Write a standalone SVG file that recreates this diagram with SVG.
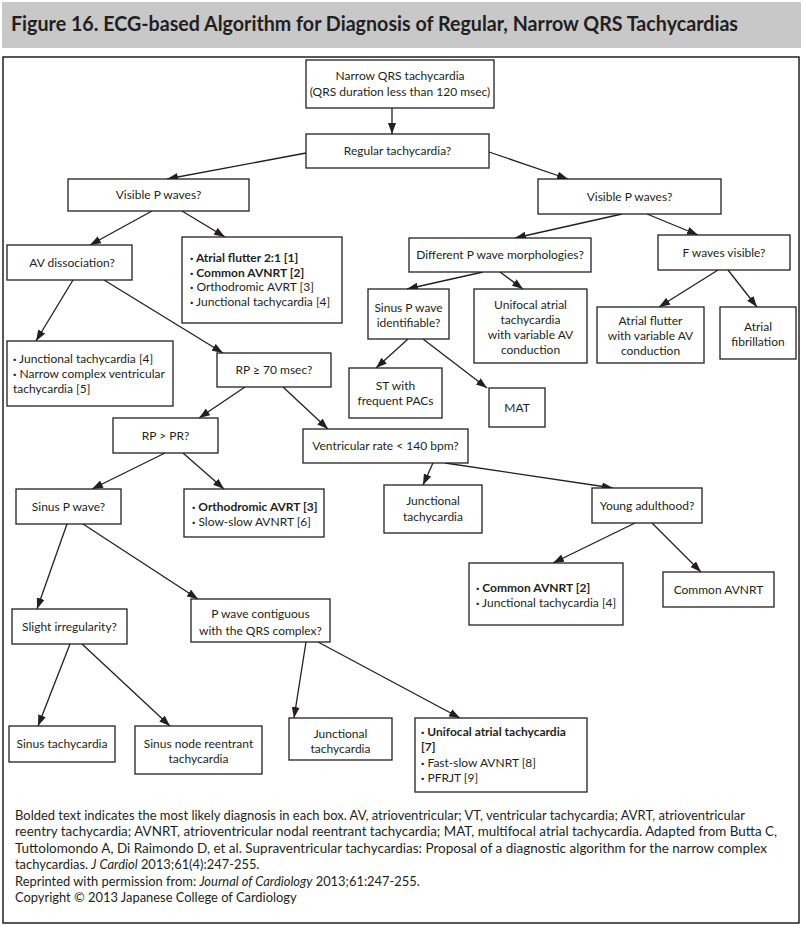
<svg xmlns="http://www.w3.org/2000/svg" width="804" height="927" viewBox="0 0 804 927">
<style>
  .box{fill:#fff;stroke:#231f20;stroke-width:1.3}
  text{font-family:Lato,"Liberation Sans",Arial,sans-serif;font-size:12px;fill:#231f20}
  .c{text-anchor:middle}
  .b{font-weight:bold}
  .dot{font-weight:900}
  .edge{stroke:#231f20;stroke-width:1.3;fill:none;marker-end:url(#ah)}
  .fn{font-size:12.9px}
  .title{font-size:20px;font-weight:bold}
</style>
<defs>
  <marker id="ah" markerUnits="userSpaceOnUse" markerWidth="11" markerHeight="8" refX="11" refY="4" orient="auto">
    <path d="M0,0 L11,4 L0,8 z" fill="#231f20"/>
  </marker>
</defs>
<rect x="2" y="2" width="799" height="46" fill="#c8c8c9"/>
<text class="title" x="11" y="31" textLength="727" lengthAdjust="spacingAndGlyphs">Figure 16. ECG-based Algorithm for Diagnosis of Regular, Narrow QRS Tachycardias</text>
<rect x="3" y="57" width="796" height="866" fill="#fff" stroke="#231f20" stroke-width="1.5"/>

<g id="connectors">
  <line class="edge" x1="392" y1="108" x2="392" y2="134"/>
  <line class="edge" x1="306" y1="153" x2="167" y2="179"/>
  <line class="edge" x1="489" y1="152" x2="568" y2="179"/>
  <line class="edge" x1="152" y1="211" x2="90" y2="245"/>
  <line class="edge" x1="182" y1="211" x2="225" y2="237"/>
  <line class="edge" x1="73" y1="280" x2="36" y2="341"/>
  <line class="edge" x1="104" y1="280" x2="223" y2="353"/>
  <line class="edge" x1="622" y1="214" x2="515" y2="238"/>
  <line class="edge" x1="647" y1="214" x2="698" y2="235"/>
  <line class="edge" x1="483" y1="272" x2="407" y2="289"/>
  <line class="edge" x1="500" y1="272" x2="523" y2="289"/>
  <line class="edge" x1="718" y1="270" x2="659" y2="307"/>
  <line class="edge" x1="728" y1="270" x2="757" y2="307"/>
  <line class="edge" x1="408" y1="339" x2="376" y2="368"/>
  <line class="edge" x1="423" y1="339" x2="487" y2="388"/>
  <line class="edge" x1="245" y1="387" x2="199" y2="418"/>
  <line class="edge" x1="283" y1="387" x2="328" y2="429"/>
  <line class="edge" x1="165" y1="453" x2="92" y2="489"/>
  <line class="edge" x1="183" y1="453" x2="224" y2="489"/>
  <line class="edge" x1="433" y1="463" x2="423" y2="485"/>
  <line class="edge" x1="445" y1="463" x2="613" y2="488"/>
  <line class="edge" x1="635" y1="523" x2="553" y2="563"/>
  <line class="edge" x1="652" y1="523" x2="701" y2="572"/>
  <line class="edge" x1="67" y1="524" x2="37" y2="609"/>
  <line class="edge" x1="83" y1="524" x2="198" y2="599"/>
  <line class="edge" x1="70" y1="644" x2="38" y2="726"/>
  <line class="edge" x1="82" y1="644" x2="170" y2="726"/>
  <line class="edge" x1="306" y1="642" x2="294" y2="718"/>
  <line class="edge" x1="318" y1="642" x2="460" y2="718"/>
</g>

<g id="n1"><rect class="box" x="306" y="60" width="188" height="48"/>
  <text class="c" x="400" y="80">Narrow QRS tachycardia</text>
  <text class="c" x="400" y="96">(QRS duration less than 120 msec)</text></g>
<g id="n2"><rect class="box" x="306" y="134" width="183" height="34"/>
  <text class="c" x="397.5" y="155">Regular tachycardia?</text></g>
<g id="n3"><rect class="box" x="68" y="179" width="181" height="32"/>
  <text class="c" x="158.5" y="199">Visible P waves?</text></g>
<g id="n4"><rect class="box" x="538" y="179" width="183" height="35"/>
  <text class="c" x="629.5" y="200.5">Visible P waves?</text></g>
<g id="n5"><rect class="box" x="7" y="245" width="125" height="35"/>
  <text class="c" x="72" y="266.5">AV dissociation?</text></g>
<g id="n6"><rect class="box" x="182" y="237" width="160" height="86"/>
  <text class="b" x="190" y="262"><tspan class="dot">·</tspan> Atrial flutter 2:1 [1]</text>
  <text class="b" x="190" y="277"><tspan class="dot">·</tspan> Common AVNRT [2]</text>
  <text x="190" y="291"><tspan class="dot">·</tspan> Orthodromic AVRT [3]</text>
  <text x="190" y="306"><tspan class="dot">·</tspan> Junctional tachycardia [4]</text></g>
<g id="n7"><rect class="box" x="7" y="341" width="166" height="65"/>
  <text x="13" y="362.5"><tspan class="dot">·</tspan> Junctional tachycardia [4]</text>
  <text x="13" y="377.5"><tspan class="dot">·</tspan> Narrow complex ventricular</text>
  <text x="13" y="392.5">tachycardia [5]</text></g>
<g id="n8"><rect class="box" x="217" y="353" width="114" height="34"/>
  <text class="c" x="274" y="374">RP ≥ 70 msec?</text></g>
<g id="n9"><rect class="box" x="409" y="238" width="182" height="34"/>
  <text class="c" x="500" y="259">Different P wave morphologies?</text></g>
<g id="n10"><rect class="box" x="658" y="235" width="132" height="35"/>
  <text class="c" x="724" y="256.5">F waves visible?</text></g>
<g id="n11"><rect class="box" x="368" y="289" width="81" height="50"/>
  <text class="c" x="408.5" y="312">Sinus P wave</text>
  <text class="c" x="408.5" y="327">identifiable?</text></g>
<g id="n12"><rect class="box" x="474" y="289" width="113" height="74"/>
  <text class="c" x="530.5" y="309">Unifocal atrial</text>
  <text class="c" x="530.5" y="324">tachycardia</text>
  <text class="c" x="530.5" y="339">with variable AV</text>
  <text class="c" x="530.5" y="354">conduction</text></g>
<g id="n13"><rect class="box" x="597" y="307" width="107" height="56"/>
  <text class="c" x="650.5" y="325">Atrial flutter</text>
  <text class="c" x="650.5" y="340">with variable AV</text>
  <text class="c" x="650.5" y="355">conduction</text></g>
<g id="n14"><rect class="box" x="720" y="307" width="76" height="52"/>
  <text class="c" x="758" y="331">Atrial</text>
  <text class="c" x="758" y="346">fibrillation</text></g>
<g id="n15"><rect class="box" x="349" y="368" width="93" height="50"/>
  <text class="c" x="395.5" y="390">ST with</text>
  <text class="c" x="395.5" y="405">frequent PACs</text></g>
<g id="n16"><rect class="box" x="489" y="388" width="56" height="39"/>
  <text class="c" x="517" y="412">MAT</text></g>
<g id="n17"><rect class="box" x="113" y="418" width="105" height="35"/>
  <text class="c" x="165.5" y="439.5">RP &gt; PR?</text></g>
<g id="n18"><rect class="box" x="303" y="429" width="165" height="34"/>
  <text class="c" x="385.5" y="450">Ventricular rate &lt; 140 bpm?</text></g>
<g id="n19"><rect class="box" x="16" y="489" width="105" height="35"/>
  <text class="c" x="68.5" y="510.5">Sinus P wave?</text></g>
<g id="n20"><rect class="box" x="184" y="489" width="140" height="48"/>
  <text class="b" x="192" y="511"><tspan class="dot">·</tspan> Orthodromic AVRT [3]</text>
  <text x="192" y="526"><tspan class="dot">·</tspan> Slow-slow AVNRT [6]</text></g>
<g id="n21"><rect class="box" x="384" y="485" width="98" height="48"/>
  <text class="c" x="433" y="505">Junctional</text>
  <text class="c" x="433" y="521">tachycardia</text></g>
<g id="n22"><rect class="box" x="592" y="488" width="110" height="35"/>
  <text class="c" x="647" y="509.5">Young adulthood?</text></g>
<g id="n23"><rect class="box" x="469" y="563" width="154" height="62"/>
  <text class="b" x="476" y="592"><tspan class="dot">·</tspan> Common AVNRT [2]</text>
  <text x="476" y="607"><tspan class="dot">·</tspan> Junctional tachycardia [4]</text></g>
<g id="n24"><rect class="box" x="663" y="572" width="111" height="35"/>
  <text class="c" x="718.5" y="593.5">Common AVNRT</text></g>
<g id="n25"><rect class="box" x="12" y="609" width="115" height="35"/>
  <text class="c" x="69.5" y="630.5">Slight irregularity?</text></g>
<g id="n26"><rect class="box" x="191" y="599" width="139" height="43"/>
  <text class="c" x="260.5" y="618">P wave contiguous</text>
  <text class="c" x="260.5" y="635">with the QRS complex?</text></g>
<g id="n27"><rect class="box" x="9" y="726" width="106" height="36"/>
  <text class="c" x="62" y="748">Sinus tachycardia</text></g>
<g id="n28"><rect class="box" x="135" y="726" width="127" height="48"/>
  <text class="c" x="198.5" y="748">Sinus node reentrant</text>
  <text class="c" x="198.5" y="763">tachycardia</text></g>
<g id="n29"><rect class="box" x="289" y="718" width="103" height="42"/>
  <text class="c" x="340.5" y="738">Junctional</text>
  <text class="c" x="340.5" y="753">tachycardia</text></g>
<g id="n30"><rect class="box" x="415" y="718" width="172" height="74"/>
  <text class="b" x="421" y="736"><tspan class="dot">·</tspan> Unifocal atrial tachycardia</text>
  <text class="b" x="421" y="751">[7]</text>
  <text x="421" y="767"><tspan class="dot">·</tspan> Fast-slow AVNRT [8]</text>
  <text x="421" y="782"><tspan class="dot">·</tspan> PFRJT [9]</text></g>

<g id="footnote">
  <text class="fn" x="15" y="820" textLength="730" lengthAdjust="spacingAndGlyphs">Bolded text indicates the most likely diagnosis in each box. AV, atrioventricular; VT, ventricular tachycardia; AVRT, atrioventricular</text>
  <text class="fn" x="15" y="836" textLength="762" lengthAdjust="spacingAndGlyphs">reentry tachycardia; AVNRT, atrioventricular nodal reentrant tachycardia; MAT, multifocal atrial tachycardia. Adapted from Butta C,</text>
  <text class="fn" x="15" y="853" textLength="752" lengthAdjust="spacingAndGlyphs">Tuttolomondo A, Di Raimondo D, et al. Supraventricular tachycardias: Proposal of a diagnostic algorithm for the narrow complex</text>
  <text class="fn" x="15" y="869">tachycardias. <tspan font-style="italic">J Cardiol</tspan> 2013;61(4):247-255.</text>
  <text class="fn" x="15" y="886">Reprinted with permission from: <tspan font-style="italic">Journal of Cardiology</tspan> 2013;61:247-255.</text>
  <text class="fn" x="15" y="902">Copyright © 2013 Japanese College of Cardiology</text>
</g>
</svg>
